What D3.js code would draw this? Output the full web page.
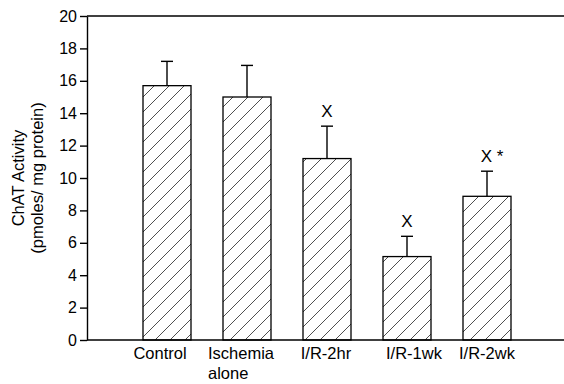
<!DOCTYPE html>
<html>
<head>
<meta charset="utf-8">
<script src="https://cdn.jsdelivr.net/npm/d3@7"></script>
<style>
  body { margin: 0; background: #fff; }
  text { font-family: "Liberation Sans", Arial, sans-serif; }
</style>
</head>
<body>
<svg class="main-canvas" width="564" height="384"></svg>
<script>
"use strict";

// Data
const groups = ['Control', 'Ischemia alone', 'I/R-2hr', 'I/R-1wk', 'I/R-2wk'];
const groupLines = [['Control'], ['Ischemia', 'alone'], ['I/R-2hr'], ['I/R-1wk'], ['I/R-2wk']];
const means = [15.7, 15.0, 11.2, 5.15, 8.87];
const errors = [1.5, 1.95, 2.0, 1.25, 1.55];
const marks = ['', '', 'X', 'X', 'X *'];
const yTicks = [0, 2, 4, 6, 8, 10, 12, 14, 16, 18, 20];

// label nudges (the original labels are not quite centred)
const labelNudge = [-7, -15, -1, 7, 0];

let svg = d3.select('.main-canvas');
const plotLeft = 87, plotTop = 16, plotBottom = 340, plotRight = 567;

const x = d3.scaleBand()
            .domain(groups)
            .range([plotLeft, plotRight])
            .paddingInner(0.4)
            .paddingOuter(0.7);

const y = d3.scaleLinear()
            .domain([0, 20])
            .range([plotBottom, plotTop]);

// hatch fill
svg.append('defs')
   .append('pattern')
   .attr('id', 'hatch')
   .attr('patternUnits', 'userSpaceOnUse')
   .attr('width', 15)
   .attr('height', 15)
   .append('path')
   .attr('d', 'M-1,16 L16,-1 M-4,4 L4,-4 M11,19 L19,11')
   .attr('stroke', '#222')
   .attr('stroke-width', 0.8);

let data = groups.map((g, i) => ({ g, mean: means[i], err: errors[i], mark: marks[i], lines: groupLines[i], nudge: labelNudge[i] }));

// error bars
let eb = svg.append('g')
            .selectAll('g')
            .data(data)
            .enter()
            .append('g')
            .attr('stroke', '#000')
            .attr('stroke-width', 1.4);
eb.append('line')
  .attr('x1', d => x(d.g) + x.bandwidth() / 2)
  .attr('x2', d => x(d.g) + x.bandwidth() / 2)
  .attr('y1', d => y(d.mean))
  .attr('y2', d => y(d.mean + d.err));
eb.append('line')
  .attr('x1', d => x(d.g) + x.bandwidth() / 2 - 6)
  .attr('x2', d => x(d.g) + x.bandwidth() / 2 + 6)
  .attr('y1', d => y(d.mean + d.err))
  .attr('y2', d => y(d.mean + d.err));

// bars
svg.append('g')
   .selectAll('rect')
   .data(data)
   .enter()
   .append('rect')
   .attr('x', d => x(d.g))
   .attr('width', x.bandwidth())
   .attr('y', d => y(d.mean))
   .attr('height', d => y(0) - y(d.mean))
   .attr('fill', 'url(#hatch)')
   .attr('stroke', '#000')
   .attr('stroke-width', 1.3);

// significance marks
svg.append('g')
   .selectAll('text')
   .data(data.filter(d => d.mark))
   .enter()
   .append('text')
   .attr('x', d => x(d.g) + x.bandwidth() / 2 + (d.mark.length > 1 ? 5 : 0))
   .attr('y', d => y(d.mean + d.err) - 9)
   .attr('text-anchor', 'middle')
   .attr('font-size', 17)
   .text(d => d.mark);

// y axis
let yAxis = svg.append('g')
               .attr('transform', `translate(${plotLeft},0)`)
               .call(d3.axisLeft(y).tickValues(yTicks).tickSize(7).tickPadding(3).tickSizeOuter(0));
yAxis.select('.domain').attr('stroke-width', 1.4);
yAxis.selectAll('.tick line').attr('stroke-width', 1.4);
yAxis.selectAll('.tick text')
     .attr('font-size', 16)
     .attr('fill', '#000')
     .style('font-family', '"Liberation Sans", Arial, sans-serif');

// top and bottom frame lines
svg.append('line')
   .attr('x1', plotLeft).attr('x2', 564)
   .attr('y1', y(20)).attr('y2', y(20))
   .attr('stroke', '#000').attr('stroke-width', 1.4);
svg.append('line')
   .attr('x1', plotLeft).attr('x2', 564)
   .attr('y1', y(0)).attr('y2', y(0))
   .attr('stroke', '#000').attr('stroke-width', 1.4);

// category labels
svg.append('g')
   .selectAll('text')
   .data(data)
   .enter()
   .append('text')
   .attr('font-size', 16.5)
   .attr('y', 359)
   .each(function (d) {
     let t = d3.select(this);
     if (d.lines.length === 1) {
       t.attr('x', x(d.g) + x.bandwidth() / 2 + d.nudge)
        .attr('text-anchor', 'middle')
        .text(d.lines[0]);
     } else {
       // two-line label, left aligned
       let sx = x(d.g) + d.nudge;
       t.attr('text-anchor', 'start');
       t.append('tspan').attr('x', sx).text(d.lines[0]);
       t.append('tspan').attr('x', sx).attr('dy', 20).text(d.lines[1]);
     }
   });

// y axis title
let title = svg.append('text')
               .attr('transform', 'translate(0,178) rotate(-90)')
               .attr('text-anchor', 'middle')
               .attr('font-size', 16.5);
title.append('tspan').attr('x', 0).attr('y', 24).text('ChAT Activity');
title.append('tspan').attr('x', 0).attr('y', 43).text('(pmoles/ mg protein)');
</script>
</body>
</html>
